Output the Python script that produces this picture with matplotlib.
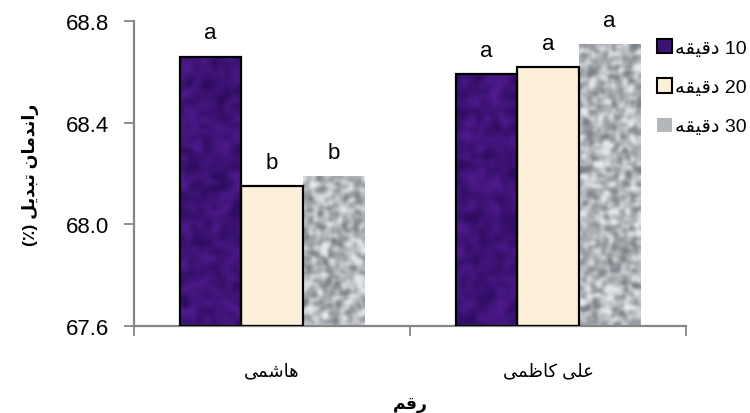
import numpy as np
import matplotlib
matplotlib.use('Agg')
from matplotlib import pyplot as plt
from matplotlib.patches import Patch

plt.rcParams['font.family'] = ['Liberation Sans', 'DejaVu Sans']

# data
cultivars = ['هاشمی', 'علی کاظمی']
series = ['10 دقیقه', '20 دقیقه', '30 دقیقه']
values = [
    [68.66, 68.59],   # 10 min
    [68.15, 68.62],   # 20 min
    [68.19, 68.71],   # 30 min
]
letters = [
    ['a', 'a'],
    ['b', 'a'],
    ['b', 'a'],
]
y_label = 'راندمان تبدیل (٪)'
x_label = 'رقم'

# matplotlib has no arabic shaping, so do a small one by hand
# forms: isolated, final, initial, medial
FORMS = {
    'ا': ('\uFE8D', '\uFE8E', '\uFE8D', '\uFE8E'),
    'ب': ('\uFE8F', '\uFE90', '\uFE91', '\uFE92'),
    'ت': ('\uFE95', '\uFE96', '\uFE97', '\uFE98'),
    'د': ('\uFEA9', '\uFEAA', '\uFEA9', '\uFEAA'),
    'ر': ('\uFEAD', '\uFEAE', '\uFEAD', '\uFEAE'),
    'ش': ('\uFEB5', '\uFEB6', '\uFEB7', '\uFEB8'),
    'ظ': ('\uFEC5', '\uFEC6', '\uFEC7', '\uFEC8'),
    'ع': ('\uFEC9', '\uFECA', '\uFECB', '\uFECC'),
    'ق': ('\uFED5', '\uFED6', '\uFED7', '\uFED8'),
    'ک': ('\uFED9', '\uFEDA', '\uFEDB', '\uFEDC'),
    'ل': ('\uFEDD', '\uFEDE', '\uFEDF', '\uFEE0'),
    'م': ('\uFEE1', '\uFEE2', '\uFEE3', '\uFEE4'),
    'ن': ('\uFEE5', '\uFEE6', '\uFEE7', '\uFEE8'),
    'ه': ('\uFEE9', '\uFEEA', '\uFEEB', '\uFEEC'),
    'ی': ('\uFEEF', '\uFEF0', '\uFEF3', '\uFEF4'),
}
RIGHT_ONLY = set('ادذرزژو')


def shape_word(w):
    out = []
    for i, ch in enumerate(w):
        if ch not in FORMS:
            out.append(ch)
            continue
        prev = i > 0 and w[i - 1] in FORMS and w[i - 1] not in RIGHT_ONLY
        nxt = i < len(w) - 1 and w[i + 1] in FORMS and ch not in RIGHT_ONLY
        idx = 3 if (prev and nxt) else 1 if prev else 2 if nxt else 0
        out.append(FORMS[ch][idx])
    return ''.join(out)


def rtl(s):
    toks = s.split(' ')
    vis = []
    for t in reversed(toks):
        if any(c in FORMS for c in t):
            vis.append(shape_word(t)[::-1])
        else:
            vis.append(t)
    return ' '.join(vis)


def texture(rng, lo, hi, blur, h, w, sharp=1.0):
    a = rng.random((h, w))
    for _ in range(blur):
        a = (a + np.roll(a, 1, 0) + np.roll(a, -1, 0) + np.roll(a, 1, 1) + np.roll(a, -1, 1)) / 5
    a = (a - a.mean()) / a.std()
    a = np.clip(a * 0.25 * sharp + 0.5, 0, 1)
    lo = np.array(matplotlib.colors.to_rgb(lo))
    hi = np.array(matplotlib.colors.to_rgb(hi))
    return lo + a[..., None] * (hi - lo)


rng = np.random.default_rng(3)
base_colors = ['#3d1274', '#fdf0d8', '#b4b7ba']
edge = ['black', 'black', 'none']

fig = plt.figure(figsize=(7.5, 4.14), dpi=100)
ax = fig.add_axes([134 / 750, 1 - 327 / 414, 552 / 750, 305 / 414])
ax.set_xlim(-0.5, 1.5)
ax.set_ylim(67.6, 68.8)
ax.set_autoscale_on(False)

x = np.arange(len(cultivars))
width = 0.222
for k in range(len(series)):
    pos = x + (k - 1) * width
    bars = ax.bar(pos, np.array(values[k]) - 67.6, width, bottom=67.6,
                  color=base_colors[k], edgecolor='none', zorder=2)
    for b in bars:
        x0, y0 = b.get_x(), b.get_y()
        x1, y1 = x0 + b.get_width(), y0 + b.get_height()
        # texture grid roughly 2 px per cell so blobs stay round
        (px0, py0), (px1, py1) = ax.transData.transform([(x0, y0), (x1, y1)])
        nw, nh = max(int((px1 - px0) / 2), 2), max(int((py1 - py0) / 2), 2)
        if k == 0:
            img = texture(rng, '#2e0c60', '#4e1a8c', 6, nh, nw, sharp=0.9)
        elif k == 2:
            img = texture(rng, '#7c8288', '#e6e8ea', 2, nh, nw, sharp=1.0)
        else:
            img = None
        if img is not None:
            im = ax.imshow(img, extent=(x0, x1, y0, y1), aspect='auto',
                           zorder=2.5, interpolation='bicubic')
            im.set_clip_path(b)
    if edge[k] != 'none':
        ax.bar(pos, np.array(values[k]) - 67.6, width, bottom=67.6,
               facecolor='none', edgecolor=edge[k], linewidth=1.6, zorder=3)
    for p, v, l in zip(pos, values[k], letters[k]):
        ax.annotate(l, (p, v), xytext=(0, 17), textcoords='offset points',
                    ha='center', va='center', fontsize=16)

ax.set_yticks([67.6, 68.0, 68.4, 68.8])
ax.set_yticklabels(['%.1f' % t for t in [67.6, 68.0, 68.4, 68.8]], fontsize=16)
ax.set_xticks(x)
ax.set_xticklabels([rtl(c) for c in cultivars], fontsize=13)
ax.set_xticks([-0.5, 0.5, 1.5], minor=True)
ax.tick_params(axis='x', which='major', length=0, pad=26)
ax.tick_params(axis='x', which='minor', length=7, width=1.3, color='#868686', direction='out')
ax.tick_params(axis='y', length=7, width=1.3, color='#868686', direction='out', pad=11)
for s in ['top', 'right']:
    ax.spines[s].set_visible(False)
for s in ['left', 'bottom']:
    ax.spines[s].set_color('#868686')
    ax.spines[s].set_linewidth(1.6)

ax.set_ylabel(rtl(y_label), fontsize=12.5, fontweight='bold')
ax.yaxis.set_label_coords(-0.172, 0.5)
ax.set_xlabel(rtl(x_label), fontsize=12.5, fontweight='bold')
ax.xaxis.set_label_coords(0.5, -0.232)

handles = [Patch(facecolor=base_colors[k], edgecolor=edge[k], linewidth=1.5) for k in range(3)]
fig.legend(handles, [rtl(s) for s in series], loc='upper left',
           bbox_to_anchor=(657 / 750, 1 - 40 / 414), frameon=False, fontsize=14,
           handlelength=0.75, handleheight=0.75, handletextpad=0.2,
           labelspacing=1.1, borderpad=0, borderaxespad=0)

fig.savefig('out.png', dpi=100)
